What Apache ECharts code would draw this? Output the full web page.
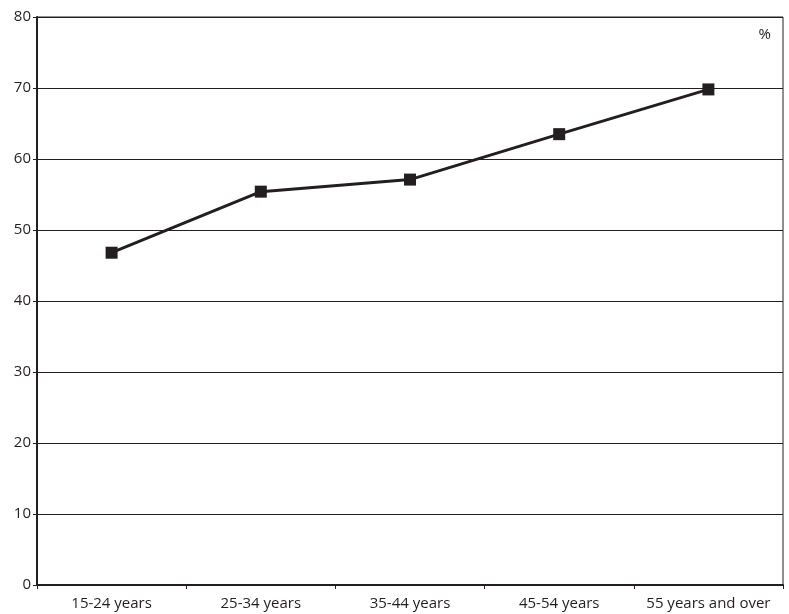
<!DOCTYPE html>
<html>
<head>
<meta charset="utf-8">
<script src="https://cdn.jsdelivr.net/npm/echarts@6/dist/echarts.min.js"></script>
<style>html,body{margin:0;padding:0;background:#fff}#c{width:789px;height:614px}</style>
</head>
<body>
<div id="c"></div>
<script>
const categories = ["15-24 years", "25-34 years", "35-44 years", "45-54 years", "55 years and over"];
const values = [46.8, 55.4, 57.1, 63.5, 69.8];
const yTicks = [0, 10, 20, 30, 40, 50, 60, 70, 80];
const unitLabel = "%";

const chart = echarts.init(document.getElementById('c'), null, {renderer: 'canvas'});
const font = "'Open Sans', 'Noto Sans', sans-serif";
chart.setOption({
  animation: false,
  backgroundColor: '#fff',
  grid: {left: 37, top: 17, right: 6, bottom: 29, show: true, borderColor: '#231f20', borderWidth: 1, containLabel: false},
  xAxis: {
    type: 'category',
    data: categories,
    boundaryGap: true,
    axisLine: {lineStyle: {color: '#231f20', width: 2}},
    axisTick: {show: true, length: 4, lineStyle: {color: '#231f20'}},
    axisLabel: {color: '#231f20', fontFamily: font, fontSize: 15, margin: 11, interval: 0, hideOverlap: false}
  },
  yAxis: {
    type: 'value',
    min: yTicks[0], max: yTicks[yTicks.length - 1], interval: 10,
    axisLine: {show: true, lineStyle: {color: '#231f20', width: 2}},
    axisTick: {show: true, length: 4, lineStyle: {color: '#231f20'}},
    axisLabel: {color: '#231f20', fontFamily: font, fontSize: 15, margin: 6},
    splitLine: {show: true, lineStyle: {color: '#231f20', width: 1}}
  },
  graphic: [{
    type: 'text', right: 18, top: 27,
    style: {text: unitLabel, fill: '#231f20', font: '15px ' + font}
  }],
  series: [{
    type: 'line',
    data: values,
    symbol: 'rect',
    symbolSize: 12,
    lineStyle: {color: '#231f20', width: 3},
    itemStyle: {color: '#231f20'}
  }]
});
</script>
</body>
</html>
